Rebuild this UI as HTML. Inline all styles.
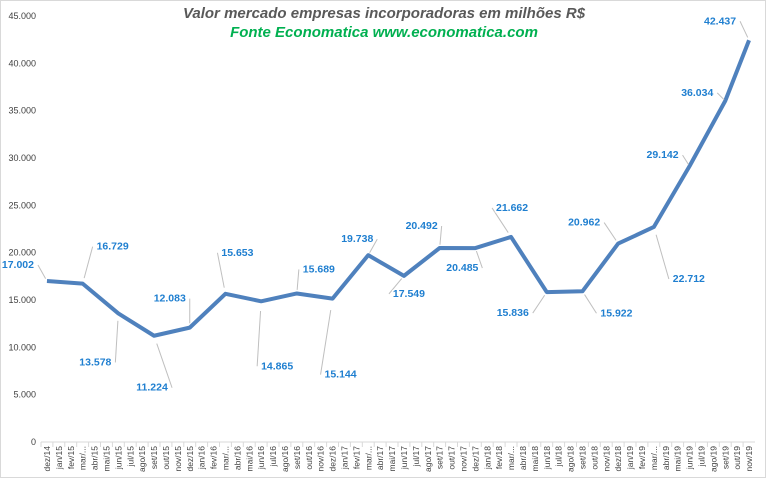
<!DOCTYPE html>
<html><head><meta charset="utf-8"><style>
html,body{margin:0;padding:0;background:#fff}
svg{display:block;font-family:"Liberation Sans",Calibri,sans-serif}
</style></head><body>
<svg id="chart" width="768" height="478">
<rect x="0.5" y="0.5" width="765" height="477" fill="#fff" stroke="#d9d9d9"/>
<text x="384" y="18" text-anchor="middle" font-size="15" font-style="italic" font-weight="bold" fill="#595959">Valor mercado empresas incorporadoras  em milhões R$</text>
<text x="384" y="37" text-anchor="middle" font-size="15" font-style="italic" font-weight="bold" fill="#00b050">Fonte Economatica www.economatica.com</text>
<g id="yaxis"></g>
<g id="xaxis"></g>
<g id="series"></g>
<g id="labels"></g>
</svg>
<script>
const months=["dez/14","jan/15","fev/15","mar/...","abr/15","mai/15","jun/15","jul/15","ago/15","set/15","out/15","nov/15","dez/15","jan/16","fev/16","mar/...","abr/16","mai/16","jun/16","jul/16","ago/16","set/16","out/16","nov/16","dez/16","jan/17","fev/17","mar/...","abr/17","mai/17","jun/17","jul/17","ago/17","set/17","out/17","nov/17","dez/17","jan/18","fev/18","mar/...","abr/18","mai/18","jun/18","jul/18","ago/18","set/18","out/18","nov/18","dez/18","jan/19","fev/19","mar/...","abr/19","mai/19","jun/19","jul/19","ago/19","set/19","out/19","nov/19"];
const pointIndex=[0,3,6,9,12,15,18,21,24,27,30,33,36,39,42,45,48,51,54,57,59];
const values=[17002,16729,13578,11224,12083,15653,14865,15689,15144,19738,17549,20492,20485,21662,15836,15922,20962,22712,29142,36034,42437];
const yTicks=[0,5000,10000,15000,20000,25000,30000,35000,40000,45000];
const labelOffsets=[[-29,-13],[30,-34],[-23,52],[-2,55],[-20,-26],[12,-38],[16,68],[22,-21],[8,79],[-11,-13],[5,21],[-18,-19],[-13,23],[1,-26],[-34,24],[34,25],[-34,-18],[35,55],[-27,-8],[-28,-5],[-29,-16]];
const NS="http://www.w3.org/2000/svg";
const x0=41,cw=11.9,yb=442,yt=16,ymax=45000;
const X=i=>x0+cw*(i+0.5);
const Y=v=>yb-(v/ymax)*(yb-yt);
const fmt=v=>v===0?"0":v.toLocaleString("de-DE");
function mk(tag,attrs,parent){const e=document.createElementNS(NS,tag);for(const k in attrs)e.setAttribute(k,attrs[k]);parent.appendChild(e);return e;}
const ya=document.getElementById("yaxis"),xa=document.getElementById("xaxis"),se=document.getElementById("series"),lb=document.getElementById("labels");
yTicks.forEach(t=>{const e=mk("text",{x:36,y:Y(t)+3,"text-anchor":"end","font-size":"9",fill:"#404040"},ya);e.textContent=fmt(t);

});
const ax=mk("line",{x1:x0,x2:x0+cw*months.length,y1:yb,y2:yb,stroke:"#d9d9d9"},xa);


months.forEach((m,i)=>{mk("line",{x1:x0+cw*i,x2:x0+cw*i,y1:yb,y2:yb+5,stroke:"#d9d9d9"},xa);
const t=mk("text",{transform:`translate(${X(i)+3},${yb+4}) rotate(-90)`,"text-anchor":"end","font-size":"8.5",fill:"#404040"},xa);t.textContent=m;

});
const pts=values.map((v,k)=>[X(pointIndex[k]),Y(v)]);
const pl=mk("polyline",{points:pts.map(p=>p.join(",")).join(" "),fill:"none",stroke:"#4f81bd","stroke-width":"4","stroke-linejoin":"round"},se);


values.forEach((v,k)=>{const [px,py]=pts[k];const [dx,dy]=labelOffsets[k];
const lx=px+dx,ly=py+dy;
const sx=lx+(dx<0?20:-20),sy=ly-3;
const ex=px+(sx-px)*0.15,ey=py+(sy-py)*0.15;
const ld=mk("line",{x1:ex,y1:ey,x2:sx,y2:sy,stroke:"#bfbfbf","stroke-width":"1"},lb);


const t=mk("text",{x:lx,y:ly,"text-anchor":"middle","font-size":"10.5","font-weight":"bold",fill:"#1f7fd0",stroke:"#fff","stroke-width":"3","paint-order":"stroke"},lb);t.textContent=fmt(v);

});
</script>
</body></html>
